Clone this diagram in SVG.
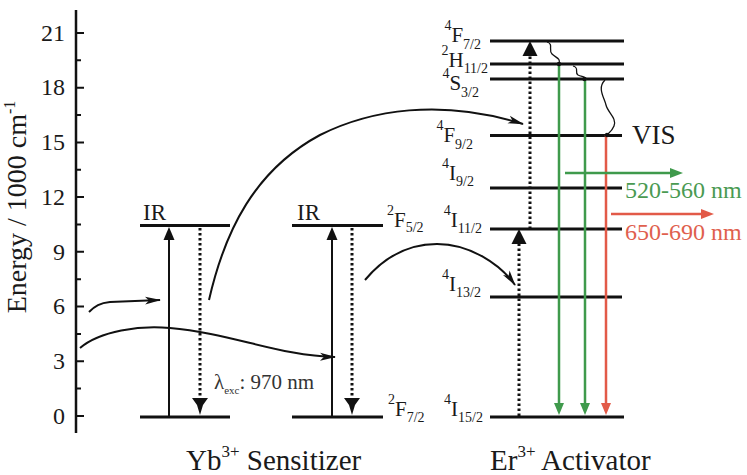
<svg xmlns="http://www.w3.org/2000/svg" width="747" height="475" viewBox="0 0 747 475" font-family="'Liberation Serif', 'Times New Roman', serif">
<style>
.lvl{stroke:#111;stroke-width:3;fill:none}
.ax{stroke:#111;stroke-width:2.5;fill:none}
.tk{stroke:#111;stroke-width:2;fill:none}
.sol{stroke:#111;stroke-width:2;fill:none}
.dot{stroke:#111;stroke-width:3;stroke-dasharray:2.5 2.5;fill:none}
.crv{stroke:#111;stroke-width:2;fill:none}
.wav{stroke:#111;stroke-width:1.3;fill:none}
.grn{stroke:#3f9a4c;stroke-width:2.5;fill:none}
.red{stroke:#e25a48;stroke-width:2.5;fill:none}
.tl{font-size:24px;text-anchor:end}
</style>
<defs>
<marker id="ah" markerWidth="18" markerHeight="10" refX="15" refY="5" orient="auto" markerUnits="userSpaceOnUse">
<path d="M0,1 L16,5 L0,9 L4,5 Z" fill="#111"/>
</marker>
</defs>

<g id="axis" fill="#1a1a1a">
<line class="ax" x1="76" y1="10" x2="76" y2="433"/>
<path class="tk" d="M76,416h8M76,361.3h8M76,306.6h8M76,251.8h8M76,197.1h8M76,142.4h8M76,87.7h8M76,33h8"/>
<path class="tk" d="M76,388.6h5M76,333.9h5M76,279.2h5M76,224.5h5M76,169.8h5M76,115h5M76,60.3h5"/>
<text class="tl" x="65" y="424">0</text>
<text class="tl" x="65" y="369">3</text>
<text class="tl" x="65" y="314">6</text>
<text class="tl" x="65" y="260">9</text>
<text class="tl" x="65" y="205">12</text>
<text class="tl" x="65" y="150">15</text>
<text class="tl" x="65" y="95">18</text>
<text class="tl" x="65" y="41">21</text>
<text transform="translate(26,207) rotate(-90)" text-anchor="middle" font-size="28">Energy / 1000 cm<tspan font-size="16" dy="-11">-1</tspan></text>
</g>

<g id="yb1" fill="#1a1a1a">
<line class="lvl" x1="140" y1="417" x2="230" y2="417"/>
<line class="lvl" x1="140" y1="225.5" x2="230" y2="225.5"/>
<text x="143" y="220" font-size="23">IR</text>
</g>

<g id="yb2" fill="#1a1a1a">
<line class="lvl" x1="292" y1="417" x2="383" y2="417"/>
<line class="lvl" x1="292" y1="225.5" x2="383" y2="225.5"/>
<text x="297" y="220" font-size="23">IR</text>
<text x="387" y="227" font-size="21"><tspan font-size="14" dy="-12">2</tspan><tspan dy="12">F</tspan><tspan font-size="14" dy="5">5/2</tspan></text>
<text x="388" y="416" font-size="21"><tspan font-size="14" dy="-12">2</tspan><tspan dy="12">F</tspan><tspan font-size="14" dy="6">7/2</tspan></text>
</g>

<g id="er" fill="#1a1a1a">
<line class="lvl" x1="490" y1="41" x2="624" y2="41"/>
<line class="lvl" x1="490" y1="64" x2="624" y2="64"/>
<line class="lvl" x1="490" y1="79" x2="624" y2="79"/>
<line class="lvl" x1="490" y1="135.5" x2="622" y2="135.5"/>
<line class="lvl" x1="490" y1="188" x2="622" y2="188"/>
<line class="lvl" x1="490" y1="229" x2="622" y2="229"/>
<line class="lvl" x1="490" y1="297" x2="622" y2="297"/>
<line class="lvl" x1="490" y1="417" x2="624" y2="417"/>
<text x="481" y="42" font-size="21" text-anchor="end"><tspan font-size="14" dy="-12">4</tspan><tspan dy="12">F</tspan><tspan font-size="14" dy="7">7/2</tspan></text>
<text x="488" y="67" font-size="21" text-anchor="end"><tspan font-size="14" dy="-12">2</tspan><tspan dy="12">H</tspan><tspan font-size="14" dy="6">11/2</tspan></text>
<text x="479" y="90" font-size="21" text-anchor="end"><tspan font-size="14" dy="-12">4</tspan><tspan dy="12">S</tspan><tspan font-size="14" dy="7">3/2</tspan></text>
<text x="473" y="142" font-size="21" text-anchor="end"><tspan font-size="14" dy="-12">4</tspan><tspan dy="12">F</tspan><tspan font-size="14" dy="7">9/2</tspan></text>
<text x="474" y="180" font-size="21" text-anchor="end"><tspan font-size="14" dy="-12">4</tspan><tspan dy="12">I</tspan><tspan font-size="14" dy="6">9/2</tspan></text>
<text x="482" y="227" font-size="21" text-anchor="end"><tspan font-size="14" dy="-12">4</tspan><tspan dy="12">I</tspan><tspan font-size="14" dy="6">11/2</tspan></text>
<text x="481" y="291" font-size="21" text-anchor="end"><tspan font-size="14" dy="-12">4</tspan><tspan dy="12">I</tspan><tspan font-size="14" dy="6">13/2</tspan></text>
<text x="483" y="416" font-size="21" text-anchor="end"><tspan font-size="14" dy="-12">4</tspan><tspan dy="12">I</tspan><tspan font-size="14" dy="6">15/2</tspan></text>
<text x="632" y="144" font-size="27">VIS</text>
<text x="625" y="198" font-size="24" fill="#4a9a52">520-560 nm</text>
<text x="625" y="240" font-size="24" fill="#e0604e">650-690 nm</text>
</g>

<g id="captions" fill="#1a1a1a">
<text x="186" y="470" font-size="29">Yb<tspan font-size="17" dy="-13">3+</tspan><tspan dy="13"> Sensitizer</tspan></text>
<text x="490" y="470" font-size="29">Er<tspan font-size="17" dy="-13">3+</tspan><tspan dy="13"> Activator</tspan></text>
<text x="214" y="389" font-size="21" fill="#333">λ<tspan font-size="11" dy="5">exc</tspan><tspan dy="-5">: 970 nm</tspan></text>
</g>

<g id="connectors">
<line class="sol" x1="169" y1="417" x2="169" y2="236"/>
<polygon points="169,227 163.5,240 174.5,240" fill="#111"/>
<line class="dot" x1="200" y1="228" x2="200" y2="400"/>
<path d="M192,398 L208,398 L203,405 L200,415 L197,405 Z" fill="#111"/>
<line class="sol" x1="332" y1="417" x2="332" y2="236"/>
<polygon points="332,227 326.5,240 337.5,240" fill="#111"/>
<line class="dot" x1="352" y1="228" x2="352" y2="400"/>
<path d="M344,398 L360,398 L355,405 L352,415 L349,405 Z" fill="#111"/>

<line class="dot" x1="519" y1="416" x2="519" y2="244"/>
<polygon points="519,229 511.5,244 526.5,244" fill="#111"/>
<line class="dot" x1="530" y1="229" x2="530" y2="56"/>
<polygon points="530,41 522.5,56 537.5,56" fill="#111"/>

<line class="grn" x1="559" y1="64" x2="559" y2="404"/>
<polygon points="559,415 554,403 564,403" fill="#3f9a4c"/>
<line class="grn" x1="585" y1="79" x2="585" y2="404"/>
<polygon points="585,415 580,403 590,403" fill="#3f9a4c"/>
<line class="red" x1="606" y1="135" x2="606" y2="404"/>
<polygon points="606,415 601,403 611,403" fill="#e25a48"/>

<line class="grn" x1="565" y1="173" x2="672" y2="173"/>
<polygon points="683,173 670,168 670,178" fill="#3f9a4c"/>
<line class="red" x1="611" y1="214" x2="703" y2="214"/>
<polygon points="714,214 701,209 701,219" fill="#e25a48"/>

<path class="wav" d="M547,42 C554,44 548,50 552,54 C556,58 561,58 559,64"/>
<path class="wav" d="M573,66 C580,68 574,72 578,75 C582,77 586,76 584,79"/>
<path class="wav" d="M605,80 C597,88 604,97 606,105 C608,113 617,118 614,126 C612,131 609,133 607,135"/>
<circle cx="559" cy="64" r="2.2" fill="#111"/>
<circle cx="584.5" cy="79" r="2.2" fill="#111"/>
<circle cx="607" cy="135" r="2.2" fill="#111"/>

<path class="crv" marker-end="url(#ah)" d="M209,300 C225,230 255,170 320,135 C370,110 440,98 523,124"/>
<path class="crv" marker-end="url(#ah)" d="M365,280 C385,256 410,244 437,244 C470,244 500,264 515,285"/>
<path class="crv" marker-end="url(#ah)" d="M80,348 C100,331 140,325 170,328 C230,333 280,356 335,357"/>
<path class="crv" marker-end="url(#ah)" d="M89,312 C95,306 100,303 110,302 L160,300"/>
</g>
</svg>
